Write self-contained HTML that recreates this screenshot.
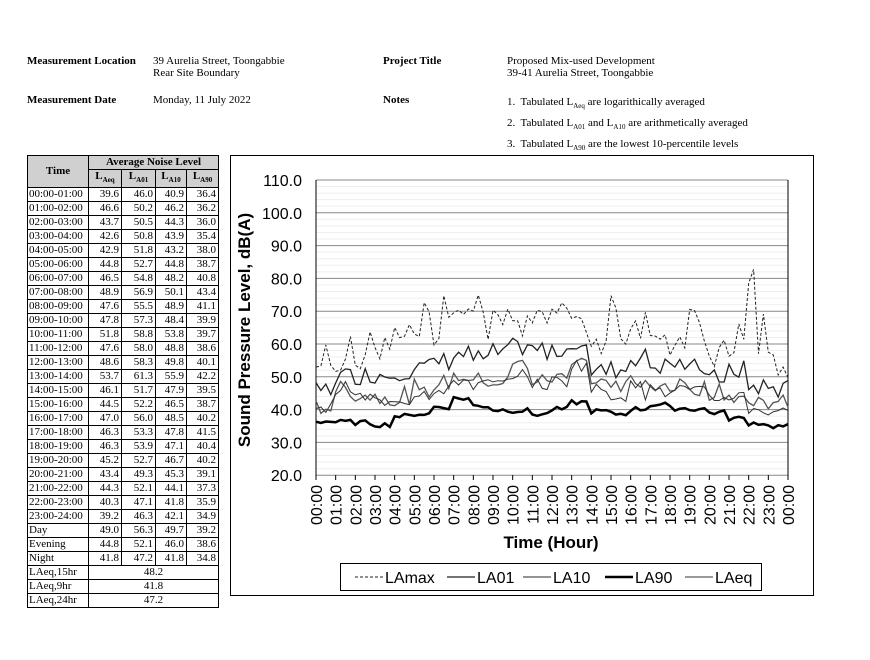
<!DOCTYPE html>
<html><head><meta charset="utf-8"><style>
body{margin:0;width:870px;height:660px;background:#fff;position:relative;font-family:"Liberation Serif",serif;font-size:11px;color:#000;overflow:hidden}
.t{position:absolute;white-space:nowrap}
b{font-weight:bold}
table{position:absolute;left:27px;top:155px;border-collapse:collapse;font-size:11px;table-layout:fixed;width:191px}
td{border:1px solid #000;padding:0 2px;height:13px;line-height:13px;text-align:right;white-space:nowrap;overflow:hidden}
td.l{text-align:left;padding:0 1px}
th{border:1px solid #000;background:#d0d0d0;font-weight:bold;height:13px;line-height:13px;padding:0;white-space:nowrap}
sub{font-size:7px}
</style></head><body>
<div class="t" style="left:27px;top:55px"><b>Measurement Location</b></div>
<div class="t" style="left:153px;top:55px">39 Aurelia Street, Toongabbie<br>Rear Site Boundary</div>
<div class="t" style="left:383px;top:55px"><b>Project Title</b></div>
<div class="t" style="left:507px;top:55px">Proposed Mix-used Development<br>39-41 Aurelia Street, Toongabbie</div>
<div class="t" style="left:27px;top:94px"><b>Measurement Date</b></div>
<div class="t" style="left:153px;top:94px">Monday, 11 July 2022</div>
<div class="t" style="left:383px;top:94px"><b>Notes</b></div>
<div class="t" style="left:507px;top:94px;line-height:17px">1.&nbsp; Tabulated L<sub>Aeq</sub> are logarithically averaged<br>2.&nbsp; Tabulated L<sub>A01</sub> and L<sub>A10</sub> are arithmetically averaged<br>3.&nbsp; Tabulated L<sub>A90</sub> are the lowest 10-percentile levels</div>
<table id="tb"></table>
<svg style="position:absolute;left:0;top:0" width="870" height="660" id="sv"></svg>
<script>
var rows=[["00:00-01:00",39.6,46.0,40.9,36.4],["01:00-02:00",46.6,50.2,46.2,36.2],["02:00-03:00",43.7,50.5,44.3,36.0],["03:00-04:00",42.6,50.8,43.9,35.4],["04:00-05:00",42.9,51.8,43.2,38.0],["05:00-06:00",44.8,52.7,44.8,38.7],["06:00-07:00",46.5,54.8,48.2,40.8],["07:00-08:00",48.9,56.9,50.1,43.4],["08:00-09:00",47.6,55.5,48.9,41.1],["09:00-10:00",47.8,57.3,48.4,39.9],["10:00-11:00",51.8,58.8,53.8,39.7],["11:00-12:00",47.6,58.0,48.8,38.6],["12:00-13:00",48.6,58.3,49.8,40.1],["13:00-14:00",53.7,61.3,55.9,42.2],["14:00-15:00",46.1,51.7,47.9,39.5],["15:00-16:00",44.5,52.2,46.5,38.7],["16:00-17:00",47.0,56.0,48.5,40.2],["17:00-18:00",46.3,53.3,47.8,41.5],["18:00-19:00",46.3,53.9,47.1,40.4],["19:00-20:00",45.2,52.7,46.7,40.2],["20:00-21:00",43.4,49.3,45.3,39.1],["21:00-22:00",44.3,52.1,44.1,37.3],["22:00-23:00",40.3,47.1,41.8,35.9],["23:00-24:00",39.2,46.3,42.1,34.9],["Day",49.0,56.3,49.7,39.2],["Evening",44.8,52.1,46.0,38.6],["Night",41.8,47.2,41.8,34.8]];
var h='<colgroup><col style="width:61px"><col style="width:33px"><col style="width:34px"><col style="width:31px"><col style="width:32px"></colgroup><tr><th rowspan=2>Time</th><th colspan=4>Average Noise Level</th></tr><tr><th>L<sub>Aeq</sub></th><th>L<sub>A01</sub></th><th>L<sub>A10</sub></th><th>L<sub>A90</sub></th></tr>';
rows.forEach(function(r){h+='<tr><td class=l>'+r[0]+'</td>';for(var i=1;i<5;i++)h+='<td>'+r[i].toFixed(1)+'</td>';h+='</tr>';});
[["LAeq,15hr","48.2"],["LAeq,9hr","41.8"],["LAeq,24hr","47.2"]].forEach(function(r){h+='<tr><td class=l>'+r[0]+'</td><td colspan=4 style="text-align:center">'+r[1]+'</td></tr>';});
document.getElementById('tb').innerHTML=h;
var s='<rect x="230.5" y="155.5" width="583" height="440" fill="none" stroke="#000"/>';
var X0=316,X1=788,Y=function(v){return 180+(110-v)*3.28;};
for(var v=20;v<=110;v+=2){s+='<line x1="'+X0+'" x2="'+X1+'" y1="'+Y(v)+'" y2="'+Y(v)+'" stroke="'+(v%10?'#efefef':'#888')+'" stroke-width="1"/>';}
s+='<line x1="'+X0+'" x2="'+X0+'" y1="180" y2="475" stroke="#000"/><line x1="'+X1+'" x2="'+X1+'" y1="180" y2="475" stroke="#000"/>';
for(var v=20;v<=110;v+=10)s+='<text x="302" y="'+(Y(v)+6)+'" text-anchor="end" font-family="Liberation Sans" font-size="16">'+v.toFixed(1)+'</text>';
for(var i=0;i<=24;i++){var x=X0+i*(X1-X0)/24;var k=i%24;var lb=(k<10?'0':'')+k+':00';s+='<line x1="'+x+'" x2="'+x+'" y1="475" y2="480" stroke="#000"/><text transform="translate('+(x+6)+',485) rotate(-90)" text-anchor="end" font-family="Liberation Sans" font-size="16">'+lb+'</text>';}
s+='<text transform="translate(250,330) rotate(-90)" text-anchor="middle" font-family="Liberation Sans" font-weight="bold" font-size="17">Sound Pressure Level, dB(A)</text>';
s+='<text x="551" y="548" text-anchor="middle" font-family="Liberation Sans" font-weight="bold" font-size="17">Time (Hour)</text>';
var mx=[53,62,55,52,58,60,53,58,62,58,62,60,64,62,66,65,70,67,62,72,70,70,68,72,72,70,63,70,68,69,68,65,66,68,70,68,70,71,70,70,68,66,62,56,60,72,62,60,65,62,70,64,60,65,58,60,56,68,65,60,56,60,62,58,65,60,80,60,70,57,53,50];
var seed=7;function rnd(){seed=(seed*9301+49297)%233280;return seed/233280-0.5;}
function ser(col,amp){var p=[];for(var i=0;i<97;i++){var hr=Math.min(23,Math.floor(i/4));var v=rows[hr][col]+rnd()*amp;if(col!=4&&rnd()>0.42)v+=amp*0.8*rnd()*2;p.push(v);}return p;}
function mxs(){var p=[];for(var i=0;i<97;i++){var k=Math.min(71,Math.floor(i*72/96));p.push(mx[k]+rnd()*6);}return p;}
function pl(p,st,w,da){var d='';p.forEach(function(v,i){d+=(X0+i*(X1-X0)/96).toFixed(1)+','+Y(v).toFixed(1)+' ';});return '<polyline points="'+d+'" fill="none" stroke="'+st+'" stroke-width="'+w+'"'+(da?' stroke-dasharray="'+da+'"':'')+'/>';}
s+=pl(mxs(),'#222',1,'3,2');s+=pl(ser(2,6),'#222',1.3);s+=pl(ser(3,5),'#555',1.3);s+=pl(ser(1,4),'#333',1);s+=pl(ser(4,1.5),'#000',2.5);
s+='<rect x="340.5" y="563.5" width="421" height="27" fill="#fff" stroke="#000"/>';
var lg=[[355,'LAmax','#222',1,'3,2'],[447,'LA01','#222',1.3,''],[523,'LA10','#555',1.3,''],[605,'LA90','#000',2.5,''],[685,'LAeq','#333',1,'']];
lg.forEach(function(l){s+='<line x1="'+l[0]+'" x2="'+(l[0]+28)+'" y1="577" y2="577" stroke="'+l[2]+'" stroke-width="'+l[3]+'"'+(l[4]?' stroke-dasharray="'+l[4]+'"':'')+'/><text x="'+(l[0]+30)+'" y="583" font-family="Liberation Sans" font-size="16">'+l[1]+'</text>';});
document.getElementById('sv').innerHTML=s;
</script>
</body></html>
